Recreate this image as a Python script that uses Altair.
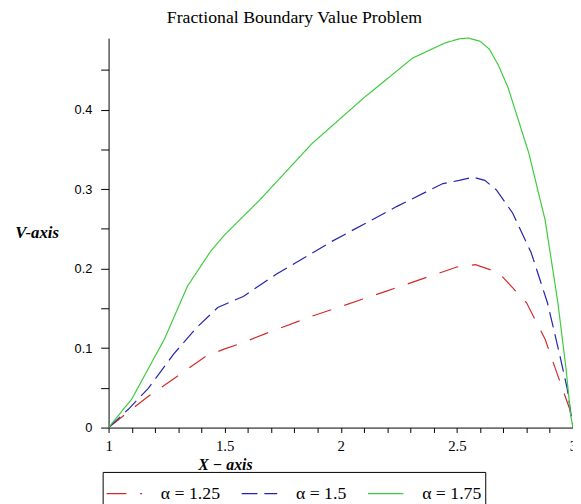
import altair as alt
import pandas as pd

series_names = ["α = 1.25", "α = 1.5", "α = 1.75"]
colors = ["#d42a2a", "#2323b0", "#3dcc3d"]
dashes = [[20, 14], [16, 7], [1, 0]]

red_x = [1.0, 1.06, 1.17, 1.31, 1.42, 1.5, 1.57, 1.71, 1.875, 2.2, 2.5, 2.58, 2.68, 2.8, 2.88, 2.935, 2.985, 3.0]
red_y = [0.0, 0.014, 0.039, 0.0675, 0.090, 0.099, 0.106, 0.122, 0.140, 0.172, 0.202, 0.205, 0.195, 0.157, 0.111, 0.065, 0.024, 0.0]

blue_x = [1.0, 1.085, 1.17, 1.28, 1.38, 1.47, 1.58, 1.72, 1.96, 2.24, 2.44, 2.51, 2.57, 2.62, 2.67, 2.74, 2.82, 2.89, 2.94, 2.975, 3.0]
blue_y = [0.0, 0.023, 0.049, 0.0925, 0.126, 0.151, 0.165, 0.1925, 0.234, 0.278, 0.307, 0.311, 0.315, 0.311, 0.299, 0.27, 0.22, 0.157, 0.095, 0.049, 0.0]

green_x = [1.0, 1.1, 1.24, 1.34, 1.44, 1.5, 1.65, 1.875, 2.1, 2.31, 2.45, 2.51, 2.55, 2.6, 2.64, 2.68, 2.72, 2.81, 2.88, 2.935, 2.97, 2.99, 3.0]
green_y = [0.0, 0.036, 0.111, 0.178, 0.222, 0.2425, 0.286, 0.357, 0.415, 0.465, 0.484, 0.489, 0.49, 0.486, 0.476, 0.455, 0.428, 0.345, 0.261, 0.157, 0.074, 0.015, 0.0]

x_ticks = [1.0, 1.1, 1.2, 1.3, 1.4, 1.5, 1.6, 1.7, 1.8, 1.9, 2.0, 2.1, 2.2, 2.3, 2.4, 2.5, 2.6, 2.7, 2.8, 2.9, 3.0]
y_ticks = [0.0, 0.05, 0.1, 0.15, 0.2, 0.25, 0.3, 0.35, 0.4, 0.45]

rows = []
for name, xs, ys in zip(series_names, [red_x, blue_x, green_x], [red_y, blue_y, green_y]):
    for i, (xv, yv) in enumerate(zip(xs, ys)):
        rows.append({"series": name, "x": xv, "y": yv, "i": i})
df = pd.DataFrame(rows)

chart = alt.Chart(df).mark_line(strokeWidth=1.2, clip=False).encode(
    x=alt.X("x:Q",
            scale=alt.Scale(domain=[1, 3], nice=False, zero=False),
            axis=alt.Axis(values=x_ticks,
                          labelExpr="round(datum.value*10) % 5 == 0 ? format(datum.value, '~g') : ''",
                          labelFont="Liberation Serif", labelFontSize=15, labelColor="black",
                          labelPadding=6, tickSize=5, tickColor="black", domainColor="black",
                          grid=False, labelFlush=False, labelOverlap=False,
                          title="X − axis", titleFont="Liberation Serif", titleFontStyle="italic",
                          titleFontWeight="bold", titleFontSize=16, titleColor="black",
                          titleX=118, titleY=38, titleAlign="center", titleBaseline="middle")),
    y=alt.Y("y:Q",
            scale=alt.Scale(domain=[0, 0.49], nice=False),
            axis=alt.Axis(values=y_ticks,
                          labelExpr="round(datum.value*100) % 10 == 0 ? (datum.value == 0 ? '0' : format(datum.value, '.1f')) : ''",
                          labelFont="Liberation Sans", labelFontSize=13, labelColor="black",
                          labelPadding=9, tickSize=8, tickColor="black", domainColor="black",
                          grid=False, labelOverlap=False,
                          title="V-axis", titleAngle=0, titleFont="Liberation Serif",
                          titleFontStyle="italic", titleFontWeight="bold", titleFontSize=17,
                          titleColor="black", titleX=-73, titleY=197, titleAlign="center",
                          titleBaseline="middle")),
    color=alt.Color("series:N",
                    scale=alt.Scale(domain=series_names, range=colors),
                    legend=alt.Legend(orient="none", legendX=-6, legendY=440, direction="horizontal",
                                      columns=3, title=None, symbolType="stroke", symbolSize=1296,
                                      symbolStrokeWidth=1.2, labelFont="Liberation Serif",
                                      labelFontSize=18, labelColor="black", labelOffset=18,
                                      columnPadding=18, padding=3, strokeColor="black",
                                      fillColor="white")),
    strokeDash=alt.StrokeDash("series:N",
                              scale=alt.Scale(domain=series_names, range=dashes),
                              legend=None),
    order="i:Q",
).properties(
    width=471, height=395,
    title=alt.TitleParams("Fractional Boundary Value Problem", font="Liberation Serif",
                          fontSize=18, fontWeight="normal", color="black", anchor="middle",
                          dx=-47, offset=9),
    autosize=alt.AutoSizeParams(type="none"),
    padding={"left": 102, "top": 27, "right": 0, "bottom": 74},
).configure(background="white", view=alt.ViewConfig(stroke=None))

chart.save("out.html", embed_options={"renderer": "svg", "actions": False})
